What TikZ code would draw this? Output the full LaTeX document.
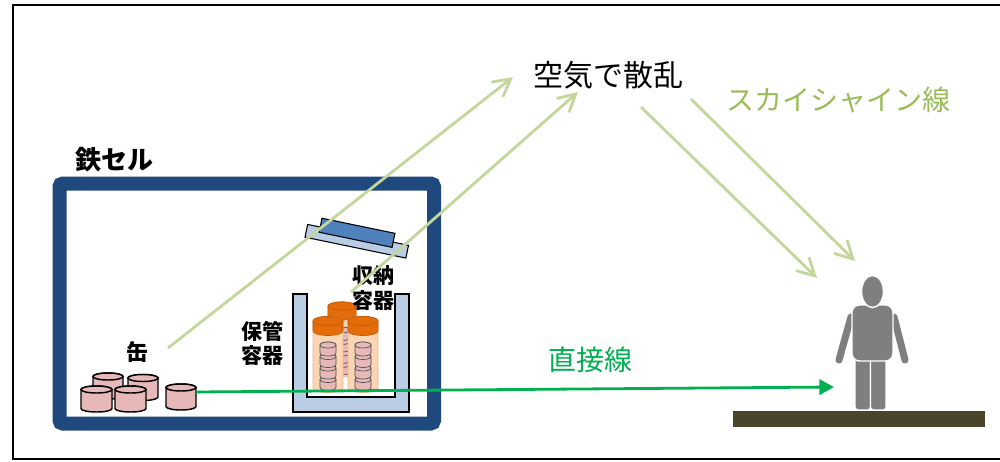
\documentclass[tikz,border=0pt]{standalone}
\usepackage{fontspec}
\newfontfamily\jp{Noto Sans CJK JP}
\usetikzlibrary{arrows.meta}

\definecolor{cellblue}{HTML}{1F497D}
\definecolor{paleblue}{HTML}{B9CDE5}
\definecolor{lidblue}{HTML}{4F81BD}
\definecolor{capor}{HTML}{E46C0A}
\definecolor{tubepeach}{HTML}{FCD5B5}
\definecolor{tubeedge}{HTML}{F2B48A}
\definecolor{canpink}{HTML}{E6B9B8}
\definecolor{skygreen}{HTML}{C3D69B}
\definecolor{skytext}{HTML}{9BBB59}
\definecolor{directgreen}{HTML}{00B050}
\definecolor{persongray}{HTML}{7F7F7F}
\definecolor{groundol}{HTML}{4A452A}

\newcommand{\jpsize}[2]{\fontsize{#1}{#2}\selectfont}

% upright cylinder: x, y of top-ellipse centre (y counted downwards), rx, ry, body height, fill, outline style
\newcommand{\cyl}[7]{%
  \path[#7, fill=#6] ({#1-#3},{-#2}) -- ({#1-#3},{-#2-#5})
    arc[start angle=180,end angle=360,x radius=#3,y radius=#4]
    -- ({#1+#3},{-#2})
    arc[start angle=0,end angle=180,x radius=#3,y radius=#4] -- cycle;
  \path[#7, fill=#6] (#1,{-#2}) ellipse[x radius=#3,y radius=#4];
}

\tikzset{
  lbl/.style={inner sep=0pt, font=\jp},
  canline/.style={draw=black, line width=1.1pt},
  smallcan/.style={draw=black!70, line width=0.5pt},
  tubeline/.style={draw=tubeedge, line width=0.5pt},
  capline/.style={draw=capor!85!black, line width=0.5pt},
  sky/.style={draw=skygreen, line width=2.1pt, -{Straight Barb[length=13pt,width=14pt]}},
  direct/.style={draw=directgreen, line width=2.1pt, -{Triangle[length=11pt,width=11.5pt]}},
  bodypart/.style={fill=persongray, draw=white, line width=1.1pt},
}

\begin{document}
\begin{tikzpicture}[x=0.75pt, y=0.75pt]
\useasboundingbox (0,0) rectangle (1000,-461);
\fill[white] (0,0) rectangle (1000,-461);

% outer frame (open on the right)
\draw[black, line width=1.6pt] (1000,-5) -- (13,-5) -- (13,-459) -- (1000,-459);

% iron cell wall
\draw[cellblue, line width=10.5pt, rounded corners=2.5pt] (59.5,-183.5) rectangle (434,-423.5);

% storage container (U section)
\path[fill=paleblue, draw=black, line width=1.1pt]
  (293,-294) -- (293,-412) -- (409,-412) -- (409,-294) -- (395,-294)
  -- (395,-397) -- (307,-397) -- (307,-294) -- cycle;

% rear canister with its cans
\cyl{342}{306}{14}{4}{67}{tubepeach}{tubeline}
\cyl{342}{364.5}{8}{3}{7.5}{canpink}{smallcan}
\cyl{342}{353}{8}{3}{7.5}{canpink}{smallcan}
\cyl{342}{341.5}{8}{3}{7.5}{canpink}{smallcan}
\cyl{342}{330}{8}{3}{7.5}{canpink}{smallcan}
\cyl{342}{306}{14}{4}{10}{capor}{capline}

% front canisters with their cans
\foreach \tx in {328,363}{
  \cyl{\tx}{321}{15}{4.5}{67}{tubepeach}{tubeline}
  \cyl{\tx}{379.5}{8}{3}{8}{canpink}{smallcan}
  \cyl{\tx}{368}{8}{3}{8}{canpink}{smallcan}
  \cyl{\tx}{356.5}{8}{3}{8}{canpink}{smallcan}
  \cyl{\tx}{345}{8}{3}{8}{canpink}{smallcan}
  \cyl{\tx}{321}{15}{4.5}{10}{capor}{capline}
}

% tilted lid
\begin{scope}[shift={(356.75,-241.25)}, rotate=-11.7]
  \path[fill=paleblue, draw=black, line width=0.8pt] (-51.5,-6.5) rectangle (51.5,6.5);
  \path[fill=lidblue, draw=black, line width=0.8pt] (-38.7,1.2) rectangle (35.8,15.5);
\end{scope}

% cans in the cell
\cyl{108}{376.5}{15}{3.5}{19}{canpink}{canline}
\cyl{143}{378}{15}{3.5}{19}{canpink}{canline}
\cyl{96.5}{389.5}{15.5}{3.5}{19}{canpink}{canline}
\cyl{130.5}{389.5}{15.5}{3.5}{19}{canpink}{canline}
\cyl{181}{387.5}{15}{3.5}{19}{canpink}{canline}
\coordinate (canE) at (196,-392);

% person
\draw[persongray, line width=5.3pt, line cap=round] (851,-317) -- (839,-360);
\draw[persongray, line width=5.3pt, line cap=round] (894,-317) -- (905,-360);
\path[bodypart, rounded corners=2pt] (855,-352) rectangle (870.5,-410);
\path[bodypart, rounded corners=2pt] (870.5,-352) rectangle (886,-410);
\path[bodypart, rounded corners=5.5pt] (852,-305) rectangle (893,-361);
\path[bodypart] (872.5,-291.5) ellipse[x radius=11, y radius=16];
\coordinate (personL) at (834,-387);

% ground
\fill[groundol] (733,-411) rectangle (985,-427);

% labels
\node[lbl, font=\jp\bfseries\jpsize{19.5}{22}] (cell) at (114,-160) {鉄セル};
\node[lbl, font=\jp\bfseries\jpsize{16.5}{19}] (can) at (137.5,-352) {缶};
\node[lbl, font=\jp\bfseries\jpsize{15.75}{18}, align=center] (store) at (262,-343) {保管\\容器};
\node[lbl, font=\jp\bfseries\jpsize{15.75}{18.5}, align=center] (canister) at (373.5,-288) {収納\\容器};
\node[lbl, font=\jp\jpsize{22.5}{26}] (scatter) at (608,-75) {空気で散乱};
\node[lbl, font=\jp\jpsize{21}{24}, text=skytext] (skyshine) at (838,-100) {スカイシャイン線};
\node[lbl, font=\jp\jpsize{21}{24}, text=directgreen] (directlbl) at (590.5,-360) {直接線};

% skyshine paths
\coordinate (s1a) at (168,-348);  \coordinate (s1b) at (513,-77);
\coordinate (s2a) at (351,-292);  \coordinate (s2b) at (578,-92);
\coordinate (s3a) at (641,-107);  \coordinate (s3b) at (817,-278);
\coordinate (s4a) at (691,-99);   \coordinate (s4b) at (855,-261);
\draw[sky] (s1a) -- (s1b);
\draw[sky] (s2a) -- (s2b);
\draw[sky] (s3a) -- (s3b);
\draw[sky] (s4a) -- (s4b);

% direct radiation
\draw[direct] (canE) -- (personL);
\end{tikzpicture}
\end{document}
